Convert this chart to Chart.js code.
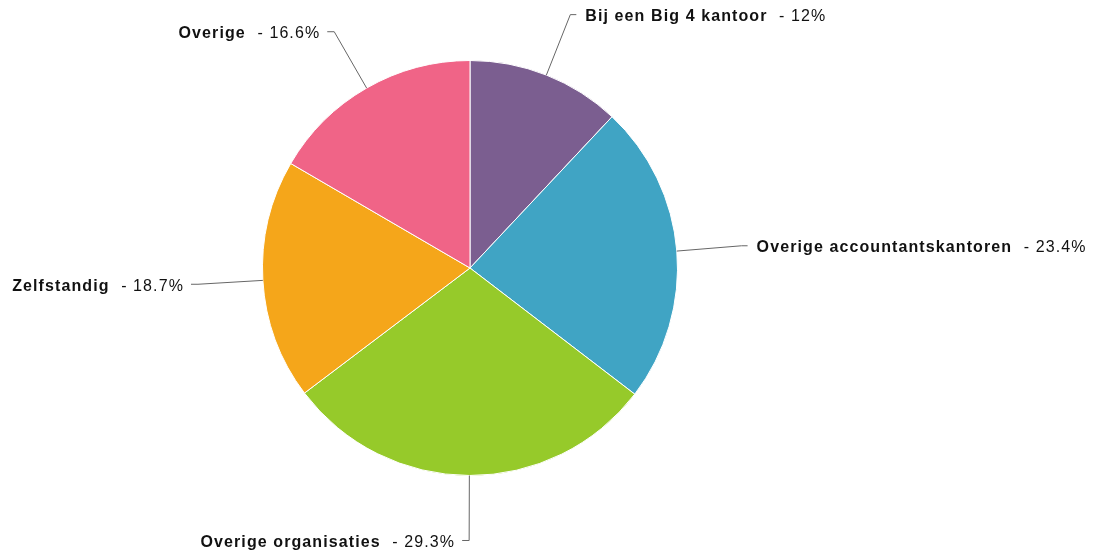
<!DOCTYPE html>
<html>
<head>
<meta charset="utf-8">
<script src="https://cdn.jsdelivr.net/npm/chart.js@4/dist/chart.umd.min.js"></script>
<style>
  html, body { margin: 0; padding: 0; background: #fff; }
  #wrap { width: 1095px; height: 554px; position: relative; }
</style>
</head>
<body>
<div id="wrap"><canvas id="pie"></canvas></div>
<script>
// slice data, clockwise from 12 o'clock
const labels = ['Bij een Big 4 kantoor', 'Overige accountantskantoren', 'Overige organisaties', 'Zelfstandig', 'Overige'];
const values = [12, 23.4, 29.3, 18.7, 16.6];
const colors = ['#7b5e90', '#40a4c4', '#96ca2a', '#f5a61a', '#f06487'];

const BOLD = 'bold 16px "Liberation Sans", Arial, sans-serif';
const NORMAL = '16px "Liberation Sans", Arial, sans-serif';

// leader lines + "name - pct%" labels
const calloutPlugin = {
  id: 'callouts',
  afterDatasetsDraw(chart) {
    const ctx = chart.ctx;
    const arcs = chart.getDatasetMeta(0).data;
    ctx.save();
    ctx.letterSpacing = '1.1px';
    arcs.forEach((arc, i) => {
      const mid = (arc.startAngle + arc.endAngle) / 2;
      const r = arc.outerRadius;
      const cos = Math.cos(mid), sin = Math.sin(mid);
      const x0 = arc.x + cos * r, y0 = arc.y + sin * r;
      const x1 = arc.x + cos * (r + 65), y1 = arc.y + sin * (r + 65);
      const right = cos > 0;
      const x2 = x1 + (right ? 6 : -7);

      ctx.strokeStyle = '#666';
      ctx.lineWidth = 1;
      ctx.beginPath();
      ctx.moveTo(x0, y0);
      ctx.lineTo(x1, y1);
      ctx.lineTo(x2, y1);
      ctx.stroke();

      const name = labels[i];
      const pct = ' - ' + values[i] + '%';
      ctx.textBaseline = 'middle';
      ctx.textAlign = 'left';
      ctx.fillStyle = '#111';
      ctx.font = BOLD;
      const wName = ctx.measureText(name).width + 6;
      ctx.font = NORMAL;
      const wPct = ctx.measureText(pct).width;
      const tx = right ? x2 + 9 : x2 - 7 - wName - wPct;
      const ty = y1 + 2;
      ctx.font = BOLD;
      ctx.fillText(name, tx, ty);
      ctx.font = NORMAL;
      ctx.fillText(pct, tx + wName, ty);
    });
    ctx.restore();
  }
};

new Chart(document.getElementById('pie'), {
  type: 'pie',
  data: {
    labels: labels,
    datasets: [{
      data: values,
      backgroundColor: colors,
      borderColor: '#fff',
      borderWidth: 1
    }]
  },
  options: {
    responsive: true,
    maintainAspectRatio: false,
    animation: false,
    layout: { padding: { left: 262, right: 417, top: 60, bottom: 78 } },
    plugins: {
      legend: { display: false },
      tooltip: { enabled: false }
    }
  },
  plugins: [calloutPlugin]
});
</script>
</body>
</html>
